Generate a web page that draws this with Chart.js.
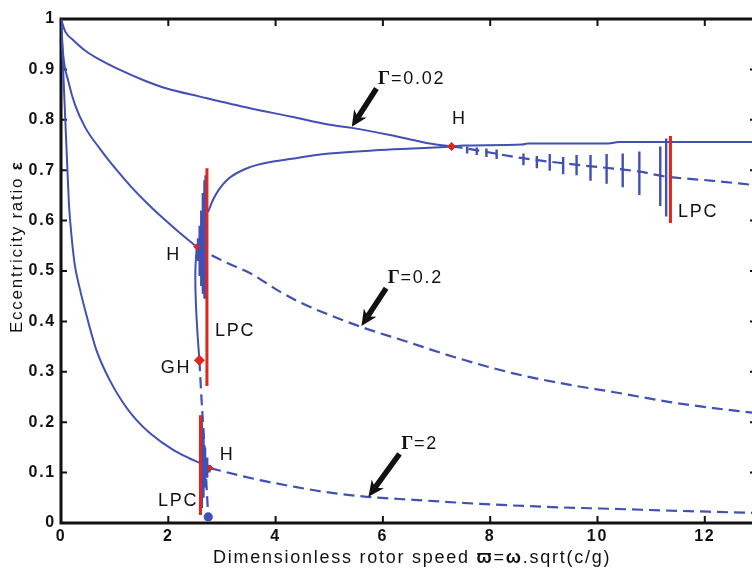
<!DOCTYPE html>
<html lang="en">
<head>
<meta charset="UTF-8">
<title>Eccentricity ratio vs rotor speed</title>
<script src="https://cdn.jsdelivr.net/npm/chart.js"></script>
<style>
    html, body { margin: 0; padding: 0; background: #fff; }
</style>
</head>
<body>
<canvas id="bifChart" width="752" height="573"></canvas>
<script>
// axis ticks
const xTicks = [0, 2, 4, 6, 8, 10, 12];
const yTicks = [0, 0.1, 0.2, 0.3, 0.4, 0.5, 0.6, 0.7, 0.8, 0.9, 1];
const xMax = 12.88;

// Gamma = 0.02 : stable branch, unstable branch after H
const g002X = [0, 0.08, 0.23, 0.48, 0.73, 1.04, 1.53, 1.97, 2.59, 3.52, 4.3, 5.01, 5.42, 6.26, 6.88, 7.28];
const g002Y = [1, 0.975, 0.958, 0.935, 0.919, 0.902, 0.879, 0.862, 0.846, 0.823, 0.806, 0.79, 0.784, 0.767, 0.753, 0.747];
const g002DashX = [7.28, 7.5, 8.6, 9.67, 10.79, 11.23, 12.15, 12.88];
const g002DashY = [0.747, 0.744, 0.724, 0.71, 0.697, 0.688, 0.679, 0.671];

// limit cycle max (solid) and min (vertical strokes)
const cycleMaxX = [2.74, 2.85, 3.09, 3.52, 4.4, 5.0, 5.95, 7.28, 7.5, 8.6, 8.7, 10.2, 10.4, 12.88];
const cycleMaxY = [0.617, 0.645, 0.68, 0.706, 0.724, 0.733, 0.74, 0.747, 0.749, 0.751, 0.753, 0.753, 0.756, 0.756];
const cycleMinX = [7.57, 7.75, 7.93, 8.12, 8.62, 8.87, 9.11, 9.36, 9.61, 9.87, 10.17, 10.47, 10.78, 11.17, 11.28];
const cycleMinTop = [0.747, 0.745, 0.743, 0.741, 0.733, 0.728, 0.732, 0.726, 0.730, 0.730, 0.732, 0.733, 0.737, 0.747, 0.763];
const cycleMinBot = [0.733, 0.730, 0.726, 0.722, 0.710, 0.704, 0.699, 0.692, 0.690, 0.679, 0.673, 0.666, 0.651, 0.629, 0.608];

// Gamma = 0.2
const g02X = [0, 0.04, 0.14, 0.26, 0.45, 0.73, 1.04, 1.3, 1.6, 1.9, 2.2, 2.53];
const g02Y = [1, 0.93, 0.875, 0.83, 0.785, 0.742, 0.7, 0.668, 0.635, 0.605, 0.577, 0.548];
const g02DashX = [2.53, 2.74, 3.1, 3.52, 4.08, 4.45, 4.7, 5.57, 6.44, 7.31, 8.43, 9.49, 10.29, 11.35, 12.16, 12.88];
const g02DashY = [0.548, 0.535, 0.516, 0.496, 0.459, 0.438, 0.426, 0.39, 0.36, 0.33, 0.297, 0.274, 0.26, 0.24, 0.228, 0.219];
const hToGhX = [2.53, 2.505, 2.51, 2.54, 2.58];
const hToGhY = [0.548, 0.502, 0.449, 0.383, 0.323];
const ghDashX = [2.58, 2.62, 2.66, 2.71, 2.745];
const ghDashY = [0.323, 0.244, 0.178, 0.079, 0.012];
const wedge02X = [2.56, 2.59, 2.62, 2.65, 2.68, 2.70];
const wedge02Top = [0.565, 0.59, 0.62, 0.655, 0.68, 0.69];
const wedge02Bot = [0.52, 0.49, 0.47, 0.455, 0.445, 0.46];

// Gamma = 2
const g2X = [0, 0.04, 0.08, 0.12, 0.15, 0.2, 0.26, 0.35, 0.48, 0.66, 0.9, 1.16, 1.4, 1.66, 2.09, 2.4, 2.59, 2.78];
const g2Y = [1, 0.9, 0.8, 0.7, 0.63, 0.565, 0.51, 0.465, 0.41, 0.343, 0.285, 0.238, 0.205, 0.178, 0.145, 0.128, 0.119, 0.109];
const g2DashX = [2.78, 3.3, 3.8, 4.45, 4.89, 5.7, 6.57, 7.81, 9.05, 10.29, 11.54, 12.88];
const g2DashY = [0.109, 0.095, 0.083, 0.07, 0.062, 0.052, 0.046, 0.038, 0.032, 0.028, 0.024, 0.02];
const wedge2X = [2.62, 2.65, 2.68, 2.72, 2.76];
const wedge2Top = [0.2, 0.17, 0.15, 0.13, 0.115];
const wedge2Bot = [0.03, 0.05, 0.07, 0.09, 0.10];

// LPC lines and bifurcation points (H, H, GH, H)
const lpcX = [2.72, 2.60, 11.36];
const lpcTop = [0.704, 0.214, 0.768];
const lpcBot = [0.272, 0.016, 0.595];
const bifX = [7.28, 2.53, 2.58, 2.78];
const bifY = [0.747, 0.548, 0.323, 0.109];

const BLUE = '#4150b4';
const RED = '#e0261e';
const SANS = '"Liberation Sans", Arial, sans-serif';

const pts = (xs, ys) => xs.map((x, i) => ({ x: x, y: ys[i] }));
// vertical strokes, separated by gaps
const strokes = (xs, tops, bots) => {
    const out = [];
    xs.forEach((x, i) => {
        out.push({ x: x, y: tops[i] }, { x: x, y: bots[i] }, { x: x, y: null });
    });
    return out;
};

const line = (data, extra) => Object.assign({
    data: data, showLine: true, borderColor: BLUE, borderWidth: 2,
    pointRadius: 0, fill: false, spanGaps: false
}, extra);
const curve = { cubicInterpolationMode: 'monotone' };
const dashed = { borderDash: [11, 6], borderWidth: 2.2, cubicInterpolationMode: 'monotone' };

const notes = [
    { greek: 'Γ', text: '=0.02', x: 5.91, y: 0.871 },
    { text: 'H', x: 7.29, y: 0.792 },
    { text: 'LPC', x: 11.5, y: 0.607 },
    { text: 'H', x: 1.96, y: 0.522 },
    { text: 'LPC', x: 2.87, y: 0.371 },
    { text: 'GH', x: 1.86, y: 0.298 },
    { greek: 'Γ', text: '=0.2', x: 6.09, y: 0.476 },
    { greek: 'Γ', text: '=2', x: 6.34, y: 0.147 },
    { text: 'H', x: 2.96, y: 0.125 },
    { text: 'LPC', x: 1.81, y: 0.034 }
];
const arrows = [
    { from: [5.88, 0.862], to: [5.42, 0.786] },
    { from: [6.06, 0.466], to: [5.6, 0.391] },
    { from: [6.31, 0.137], to: [5.73, 0.052] }
];

function spacing(ctx, v) {
    if ('letterSpacing' in ctx) ctx.letterSpacing = v;
}

function drawArrow(ctx, x0, y0, x1, y1) {
    const dx = x1 - x0, dy = y1 - y0, len = Math.hypot(dx, dy);
    const ux = dx / len, uy = dy / len, nx = -uy, ny = ux;
    const hl = 16, hw = 7.5;
    ctx.beginPath();
    ctx.moveTo(x0, y0);
    ctx.lineTo(x1 - ux * hl * 0.7, y1 - uy * hl * 0.7);
    ctx.lineWidth = 5.5;
    ctx.stroke();
    ctx.beginPath();
    ctx.moveTo(x1, y1);
    ctx.lineTo(x1 - ux * hl + nx * hw, y1 - uy * hl + ny * hw);
    ctx.lineTo(x1 - ux * hl * 0.7, y1 - uy * hl * 0.7);
    ctx.lineTo(x1 - ux * hl - nx * hw, y1 - uy * hl - ny * hw);
    ctx.closePath();
    ctx.fill();
}

const decor = {
    id: 'decor',
    beforeDraw(chart) {
        spacing(chart.ctx, '1.75px');
    },
    beforeDatasetsDraw(chart) {
        const { ctx, chartArea: a, scales: { x, y } } = chart;
        ctx.save();
        ctx.strokeStyle = '#111';
        ctx.lineWidth = 2;
        ctx.beginPath();
        xTicks.forEach(v => {
            const px = x.getPixelForValue(v);
            ctx.moveTo(px, a.bottom); ctx.lineTo(px, a.bottom - 7);
            ctx.moveTo(px, a.top); ctx.lineTo(px, a.top + 7);
        });
        yTicks.forEach(v => {
            const py = y.getPixelForValue(v);
            ctx.moveTo(a.left, py); ctx.lineTo(a.left + 6, py);
            ctx.moveTo(a.right, py); ctx.lineTo(a.right - 2, py);
        });
        ctx.stroke();
        ctx.lineWidth = 3;
        ctx.beginPath();
        ctx.moveTo(a.right, a.top);
        ctx.lineTo(a.left, a.top);
        ctx.lineTo(a.left, a.bottom);
        ctx.lineTo(a.right, a.bottom);
        ctx.stroke();
        ctx.restore();
    },
    afterDatasetsDraw(chart) {
        const { ctx, scales: { x, y } } = chart;
        ctx.save();
        spacing(ctx, '1.75px');
        ctx.fillStyle = '#111';
        ctx.strokeStyle = '#111';
        ctx.textBaseline = 'alphabetic';
        ctx.textAlign = 'left';
        notes.forEach(n => {
            let px = x.getPixelForValue(n.x);
            const py = y.getPixelForValue(n.y);
            if (n.greek) {
                ctx.font = 'bold 19px "Liberation Serif", serif';
                ctx.fillText(n.greek, px, py);
                px += ctx.measureText(n.greek).width - 1;
            }
            ctx.font = '18px ' + SANS;
            ctx.fillText(n.text, px, py);
        });
        arrows.forEach(r => {
            drawArrow(ctx,
                x.getPixelForValue(r.from[0]), y.getPixelForValue(r.from[1]),
                x.getPixelForValue(r.to[0]), y.getPixelForValue(r.to[1]));
        });

        // x axis title
        const xParts = [
            ['Dimensionless rotor speed ', '18px ' + SANS],
            ['ϖ', 'bold 18px ' + SANS],
            ['=', '18px ' + SANS],
            ['ω', 'bold 18px ' + SANS],
            ['.sqrt(c/g)', '18px ' + SANS]
        ];
        let tx = 213;
        xParts.forEach(p => {
            ctx.font = p[1];
            ctx.fillText(p[0], tx, 563);
            tx += ctx.measureText(p[0]).width;
        });

        // y axis title
        ctx.translate(22, 333);
        ctx.rotate(-Math.PI / 2);
        ctx.font = '17px ' + SANS;
        ctx.fillText('Eccentricity ratio ', 0, 0);
        const w = ctx.measureText('Eccentricity ratio ').width;
        ctx.font = 'bold 17px ' + SANS;
        ctx.fillText('ε', w, 0);
        ctx.restore();
    },
    afterDraw(chart) {
        spacing(chart.ctx, '0px');
    }
};

new Chart(document.getElementById('bifChart'), {
    type: 'scatter',
    data: {
        datasets: [
            { data: pts(bifX, bifY), pointStyle: 'rectRot', pointRadius: [4, 3, 5, 3],
              backgroundColor: RED, borderColor: RED, borderWidth: 1, showLine: false },
            { data: strokes(lpcX, lpcTop, lpcBot), showLine: true, borderColor: RED,
              borderWidth: 3, pointRadius: 0, spanGaps: false },
            line(strokes(wedge02X, wedge02Top, wedge02Bot), { borderWidth: 3 }),
            line(strokes(wedge2X, wedge2Top, wedge2Bot), { borderWidth: 3 }),
            line(strokes(cycleMinX, cycleMinTop, cycleMinBot), { borderWidth: 2.4 }),
            line(pts(g002X, g002Y), curve),
            line(pts(g002DashX, g002DashY), dashed),
            line(pts(cycleMaxX, cycleMaxY), curve),
            line(pts(g02X, g02Y), curve),
            line(pts(g02DashX, g02DashY), dashed),
            line(pts(hToGhX, hToGhY), { tension: 0.4 }),
            line(pts(ghDashX, ghDashY), Object.assign({}, dashed, {
                pointRadius: [0, 0, 0, 0, 3.5], backgroundColor: BLUE })),
            line(pts(g2X, g2Y), curve),
            line(pts(g2DashX, g2DashY), dashed)
        ]
    },
    options: {
        responsive: false,
        animation: false,
        events: [],
        layout: { autoPadding: false, padding: { top: 19, right: 0, left: 0, bottom: 0 } },
        plugins: { legend: { display: false }, tooltip: { enabled: false } },
        scales: {
            x: {
                type: 'linear', min: 0, max: xMax,
                afterBuildTicks: s => { s.ticks = xTicks.map(v => ({ value: v })); },
                afterFit: s => { s.height = 50; },
                grid: { display: false, drawTicks: false },
                border: { display: false },
                ticks: { color: '#111', padding: 4, maxRotation: 0,
                         font: { family: SANS, size: 16, weight: 'bold' },
                         callback: v => String(v) }
            },
            y: {
                type: 'linear', min: 0, max: 1,
                afterBuildTicks: s => { s.ticks = yTicks.map(v => ({ value: v })); },
                afterFit: s => { s.width = 61; },
                grid: { display: false, drawTicks: false },
                border: { display: false },
                ticks: { color: '#111', padding: 5,
                         font: { family: SANS, size: 16, weight: 'bold' },
                         callback: v => String(v) }
            }
        }
    },
    plugins: [decor]
});
</script>
</body>
</html>
